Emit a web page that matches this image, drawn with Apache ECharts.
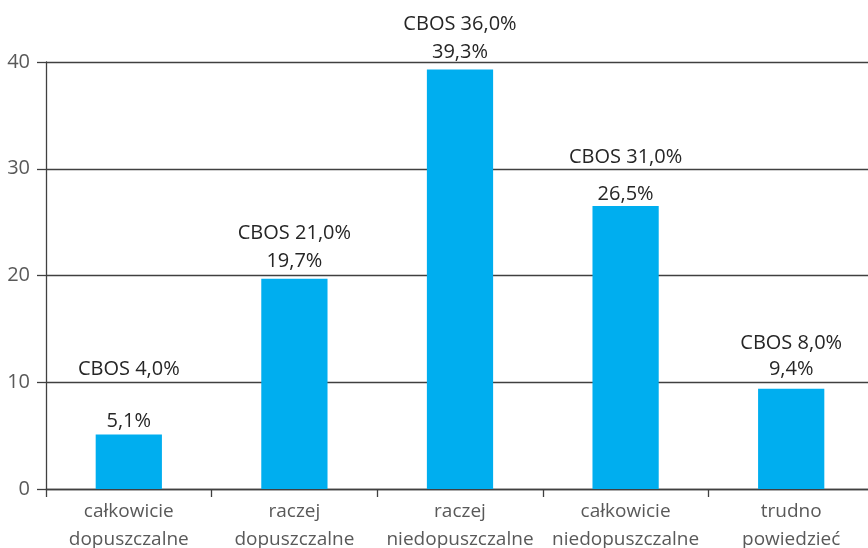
<!DOCTYPE html>
<html>
<head>
<meta charset="utf-8">
<script src="https://cdn.jsdelivr.net/npm/echarts@6/dist/echarts.min.js"></script>
<style>html,body{margin:0;padding:0;background:#fff}#c{width:868px;height:548px}</style>
</head>
<body>
<div id="c"></div>
<script>
var categories = ['całkowicie\ndopuszczalne', 'raczej\ndopuszczalne', 'raczej\nniedopuszczalne', 'całkowicie\nniedopuszczalne', 'trudno\npowiedzieć'];
var values = [5.1, 19.7, 39.3, 26.5, 9.4];
var cbosValues = [4.0, 21.0, 36.0, 31.0, 8.0];
var yTicks = [0, 10, 20, 30, 40];

// layout (style only): extra padding under the CBOS line, and distance above bar
var cbosExtraGap = [48, 0, 0, 18, -4];
var labelDistance = [-1, 3, 3.5, -2, 5];

function fmt(v) { return v.toFixed(1).replace('.', ',') + '%'; }

var FONT = '"Open Sans", sans-serif';
var data = values.map(function (v, i) {
  return {
    value: v,
    label: {
      distance: labelDistance[i],
      rich: {
        c: { fontSize: 20, fontFamily: FONT, color: '#262626', lineHeight: 28, padding: [0, 0, cbosExtraGap[i], 0] },
        v: { fontSize: 20, fontFamily: FONT, color: '#262626', lineHeight: 28 }
      }
    }
  };
});

var chart = echarts.init(document.getElementById('c'), null, { renderer: 'canvas' });
chart.setOption({
  animation: false,
  backgroundColor: '#ffffff',
  grid: { left: 46, right: -6, top: 62, bottom: 59, containLabel: false, outerBoundsMode: 'none' },
  xAxis: {
    type: 'category',
    data: categories,
    boundaryGap: true,
    axisLine: { show: true, lineStyle: { color: '#404040', width: 1.3 } },
    axisTick: { show: true, alignWithLabel: false, length: 8, lineStyle: { color: '#404040', width: 1.3 } },
    axisLabel: { color: '#595959', fontSize: 19, fontFamily: FONT, lineHeight: 28, margin: 9, interval: 0 }
  },
  yAxis: {
    type: 'value',
    min: yTicks[0],
    max: yTicks[yTicks.length - 1],
    interval: 10,
    axisLine: { show: true, lineStyle: { color: '#404040', width: 1.3 } },
    axisTick: { show: true, inside: false, length: 9, lineStyle: { color: '#404040', width: 1.3 } },
    axisLabel: { color: '#595959', fontSize: 20, fontFamily: FONT, margin: 16 },
    splitLine: { show: true, lineStyle: { color: '#404040', width: 1.3 } }
  },
  series: [{
    type: 'bar',
    data: data,
    barWidth: '40%',
    itemStyle: { color: '#00AEEF' },
    label: {
      show: true,
      position: 'top',
      formatter: function (p) {
        return '{c|CBOS ' + fmt(cbosValues[p.dataIndex]) + '}\n{v|' + fmt(p.value) + '}';
      }
    }
  }]
});
</script>
</body>
</html>
